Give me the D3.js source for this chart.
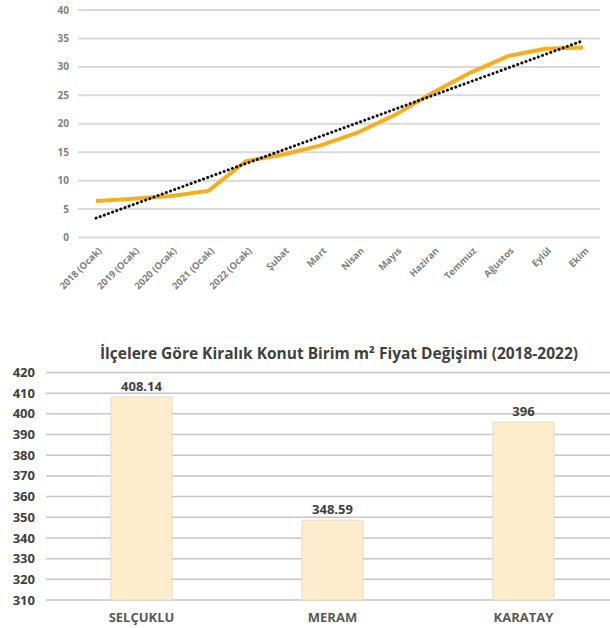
<!DOCTYPE html>
<html>
<head>
<meta charset="utf-8">
<script src="https://cdn.jsdelivr.net/npm/d3@7"></script>
<style>
  body { margin: 0; background: #fff; }
  svg { display: block; }
</style>
</head>
<body>
<svg id="chart" width="610" height="628"></svg>
<script>
// top chart data
var months = ["2018 (Ocak)", "2019 (Ocak)", "2020 (Ocak)", "2021 (Ocak)", "2022 (Ocak)",
              "Şubat", "Mart", "Nisan", "Mayıs", "Haziran", "Temmuz", "Ağustos", "Eylül", "Ekim"];
var rents = [6.4, 6.8, 7.3, 8.2, 13.4, 14.6, 16.2, 18.5, 21.6, 25.5, 29.0, 31.9, 33.2, 33.4];
var lineTicks = [0, 5, 10, 15, 20, 25, 30, 35, 40];

// bottom chart data
var districts = ["SELÇUKLU", "MERAM", "KARATAY"];
var prices = [408.14, 348.59, 396];
var barTicks = [310, 320, 330, 340, 350, 360, 370, 380, 390, 400, 410, 420];
var barTitle = "İlçelere Göre  Kiralık Konut Birim m² Fiyat Değişimi (2018-2022)";

var svg = d3.select("#chart");

////////// line chart
var x1 = d3.scalePoint()
    .domain(months)
    .range([96, 583]);
var y1 = d3.scaleLinear()
    .domain([0, 40])
    .range([237.5, 10]);

var gTop = svg.append("g");

gTop.selectAll(".grid1")
    .data(lineTicks)
  .enter().append("line")
    .attr("x1", 78).attr("x2", 600)
    .attr("y1", function(d) { return y1(d); })
    .attr("y2", function(d) { return y1(d); })
    .attr("stroke", "#d9d9d9")
    .attr("stroke-width", 2);

gTop.selectAll(".ylab1")
    .data(lineTicks)
  .enter().append("text")
    .attr("x", 69)
    .attr("y", function(d) { return y1(d); })
    .attr("dy", "0.35em")
    .attr("text-anchor", "end")
    .attr("font-family", "'Open Sans', sans-serif")
    .attr("font-weight", "bold")
    .attr("font-size", 10)
    .attr("fill", "#808080")
    .text(function(d) { return d; });

gTop.selectAll(".xlab1")
    .data(months)
  .enter().append("text")
    .attr("transform", function(d) { return "translate(" + (x1(d) + 4) + ",249) rotate(-45)"; })
    .attr("text-anchor", "end")
    .attr("dy", "0.35em")
    .attr("font-family", "'Open Sans', sans-serif")
    .attr("font-weight", "bold")
    .attr("font-size", 9.5)
    .attr("fill", "#808080")
    .text(function(d) { return d; });

// linear trend from the data
var n = rents.length;
var mx = d3.mean(rents, function(d, i) { return i; });
var my = d3.mean(rents);
var sxy = d3.sum(rents, function(d, i) { return (i - mx) * (d - my); });
var sxx = d3.sum(rents, function(d, i) { return (i - mx) * (i - mx); });
var slope = sxy / sxx, icpt = my - slope * mx;
var trend = [0, n - 1].map(function(i) { return [months[i], icpt + slope * i]; });

var line = d3.line()
    .x(function(d) { return x1(d[0]); })
    .y(function(d) { return y1(d[1]); });

gTop.append("path")
    .datum(months.map(function(m, i) { return [m, rents[i]]; }))
    .attr("d", line.curve(d3.curveLinear))
    .attr("fill", "none")
    .attr("stroke", "#f6ae1d")
    .attr("stroke-width", 4)
    .attr("stroke-linejoin", "round");

gTop.append("path")
    .datum(trend)
    .attr("d", line.curve(d3.curveLinear))
    .attr("fill", "none")
    .attr("stroke", "#111")
    .attr("stroke-width", 3)
    .attr("stroke-linecap", "round")
    .attr("stroke-dasharray", "0.1 4.3");

////////// bar chart
var x2 = d3.scaleBand()
    .domain(districts)
    .range([46, 619])
    .paddingInner(0.68)
    .paddingOuter(0.34);
var y2 = d3.scaleLinear()
    .domain([310, 420])
    .range([600, 372.5]);

var gBot = svg.append("g");

gBot.append("text")
    .attr("x", 339)
    .attr("y", 359)
    .attr("text-anchor", "middle")
    .attr("font-family", "'Open Sans', sans-serif")
    .attr("font-weight", "bold")
    .attr("font-size", 15.5)
    .attr("fill", "#404040")
    .text(barTitle);

gBot.selectAll(".grid2")
    .data(barTicks)
  .enter().append("line")
    .attr("x1", 46).attr("x2", 610)
    .attr("y1", function(d) { return y2(d); })
    .attr("y2", function(d) { return y2(d); })
    .attr("stroke", "#c6c6c6")
    .attr("stroke-width", 1.5);

gBot.selectAll(".ylab2")
    .data(barTicks)
  .enter().append("text")
    .attr("x", 35)
    .attr("y", function(d) { return y2(d); })
    .attr("dy", "0.35em")
    .attr("text-anchor", "end")
    .attr("font-family", "'Open Sans', sans-serif")
    .attr("font-weight", "bold")
    .attr("font-size", 13)
    .attr("fill", "#404040")
    .text(function(d) { return d; });

gBot.selectAll(".bar")
    .data(prices)
  .enter().append("rect")
    .attr("x", function(d, i) { return x2(districts[i]); })
    .attr("width", x2.bandwidth())
    .attr("y", function(d) { return y2(d); })
    .attr("height", function(d) { return y2(310) - y2(d); })
    .attr("fill", "#fdedcc")
    .attr("stroke", "#e6dcc8")
    .attr("stroke-width", 1);

gBot.selectAll(".val")
    .data(prices)
  .enter().append("text")
    .attr("x", function(d, i) { return x2(districts[i]) + x2.bandwidth() / 2; })
    .attr("y", function(d) { return y2(d) - 6; })
    .attr("text-anchor", "middle")
    .attr("font-family", "'Open Sans', sans-serif")
    .attr("font-weight", "bold")
    .attr("font-size", 13)
    .attr("fill", "#404040")
    .text(function(d) { return d; });

gBot.selectAll(".xlab2")
    .data(districts)
  .enter().append("text")
    .attr("x", function(d) { return x2(d) + x2.bandwidth() / 2; })
    .attr("y", 622)
    .attr("text-anchor", "middle")
    .attr("font-family", "'Open Sans', sans-serif")
    .attr("font-weight", "bold")
    .attr("font-size", 13)
    .attr("fill", "#595959")
    .text(function(d) { return d; });
</script>
</body>
</html>
